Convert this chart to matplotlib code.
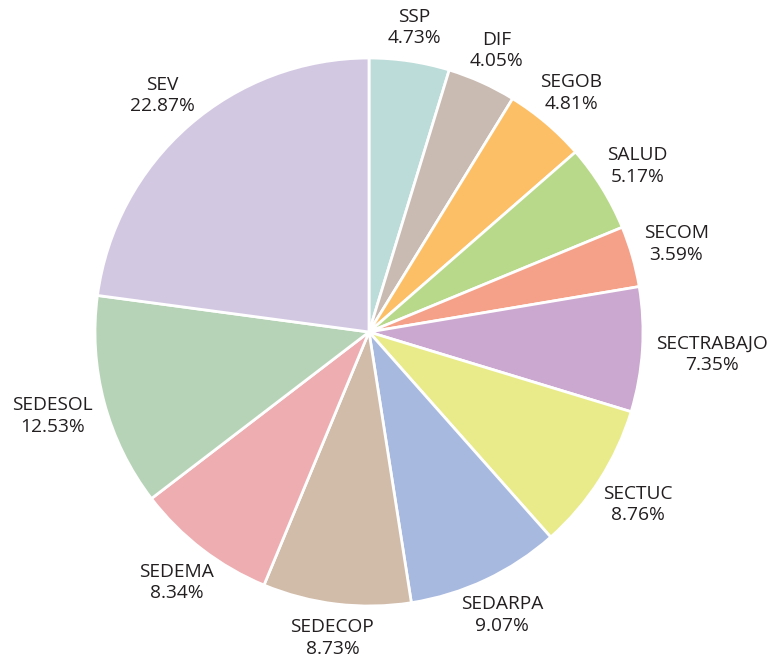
import matplotlib.pyplot as plt
import numpy as np

# Datos
dependencias = ['SSP', 'DIF', 'SEGOB', 'SALUD', 'SECOM', 'SECTRABAJO',
                'SECTUC', 'SEDARPA', 'SEDECOP', 'SEDEMA', 'SEDESOL', 'SEV']
porcentajes = [4.73, 4.05, 4.81, 5.17, 3.59, 7.35,
               8.76, 9.07, 8.73, 8.34, 12.53, 22.87]
colores = ['#bcdcd9', '#c9bab2', '#fdbf66', '#b8d98a', '#f5a189', '#cba8cf',
           '#e9eb8a', '#a8b9df', '#d1bba9', '#eeadb1', '#b7d3b7', '#d3c8e2']

plt.rcParams['font.family'] = ['Open Sans', 'DejaVu Sans']

fig = plt.figure(figsize=(7.71, 6.66), dpi=100)
ax = fig.add_axes([0, 0, 1, 1])

# Pastel en coordenadas de píxel
centro = (369, 334)
radio = 274
cunas, _ = ax.pie(porcentajes, colors=colores, startangle=90, counterclock=False,
                  center=centro, radius=radio,
                  wedgeprops=dict(edgecolor='white', linewidth=2))
ax.set_xlim(0, 771)
ax.set_ylim(0, 666)
ax.set_aspect('equal')
ax.axis('off')

# Etiquetas fuera del pastel
renderer = fig.canvas.get_renderer()
separacion = 14
for cuna, nombre, p in zip(cunas, dependencias, porcentajes):
    ang = np.deg2rad((cuna.theta1 + cuna.theta2) / 2)
    c, s = np.cos(ang), np.sin(ang)
    t = ax.text(0, 0, f'{nombre}\n{p:.2f}%', ha='center', va='center',
                fontsize=13.8, color='#231f20', linespacing=1.25)
    bb = t.get_window_extent(renderer)
    w2, h2 = bb.width / 2, bb.height / 2
    ext = np.hypot(w2 * c, h2 * s)
    d = radio + separacion + ext
    t.set_position((centro[0] + d * c, centro[1] + d * s))

fig.savefig('out.png', dpi=100)
